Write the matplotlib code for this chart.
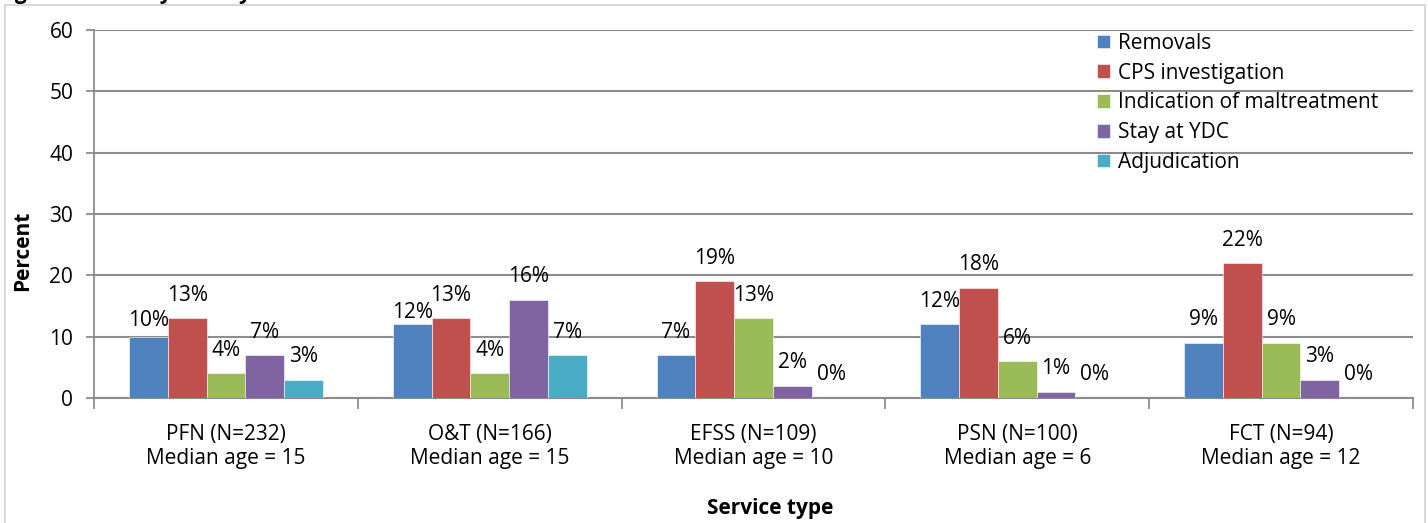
import numpy as np
import matplotlib
matplotlib.use("Agg")
import matplotlib.pyplot as plt
from matplotlib.patches import Rectangle

plt.rcParams["font.family"] = ["Open Sans", "DejaVu Sans"]

groups = ["PFN (N=232)", "O&T (N=166)", "EFSS (N=109)", "PSN (N=100)", "FCT (N=94)"]
median_ages = [15, 15, 10, 6, 12]
series_names = ["Removals", "CPS investigation", "Indication of maltreatment",
                "Stay at YDC", "Adjudication"]
removals = [10, 12, 7, 12, 9]
cps = [13, 13, 19, 18, 22]
maltreatment = [4, 4, 13, 6, 9]
ydc = [7, 16, 2, 1, 3]
adjudication = [3, 7, 0, 0, 0]
colors = ["#4F81BD", "#C0504D", "#9BBB59", "#8064A2", "#4BACC6"]


def main():
    values = [removals, cps, maltreatment, ydc, adjudication]
    fig = plt.figure(figsize=(14.28, 5.23), dpi=100)
    ax = fig.add_axes([94 / 1428, 1 - 398 / 523, (1413 - 94) / 1428, (398 - 30) / 523])

    # outer chart border
    fig.patches.append(Rectangle((5 / 1428, -0.05), 1420 / 1428, 1 - 5 / 523 + 0.05,
                                 transform=fig.transFigure, fill=False,
                                 edgecolor="#D9D9D9", linewidth=1.5))
    # figure caption sits above the cropped chart, only its lowest strokes show
    fig.text(-0.002, 1 + 1.5 / 523, "Figure 30: Family history of involvement",
             fontsize=15, fontweight="bold", va="baseline", ha="left")

    x = np.arange(len(groups))
    w = 0.147
    for i, (name, vals) in enumerate(zip(series_names, values)):
        pos = x + (i - 2) * w
        bars = ax.bar(pos, vals, width=w, color=colors[i], label=name,
                      edgecolor="white", linewidth=0.4, zorder=3)
        for j, (b, v) in enumerate(zip(bars, vals)):
            dy = 9
            # first two Removals labels were nudged down next to the taller red bars
            if i == 0 and j == 0:
                dy = 4
            elif i == 0 and j == 1:
                dy = 1
            ax.annotate(f"{v}%", (b.get_x() + b.get_width() / 2, v),
                        xytext=(0, dy), textcoords="offset points",
                        ha="center", va="bottom", fontsize=15, zorder=4)

    ax.set_ylim(0, 60)
    ax.set_xlim(-0.5, len(groups) - 0.5)
    ax.set_yticks(range(0, 61, 10))
    ax.yaxis.grid(True, color="#8C8C8C", linewidth=1.5, zorder=0)
    ax.set_axisbelow(True)

    ax.set_xticks(np.arange(len(groups) + 1) - 0.5)
    ax.set_xticklabels([])
    ax.set_xticks(x, minor=True)
    ax.set_xticklabels([f"{g}\nMedian age = {m}" for g, m in zip(groups, median_ages)],
                       minor=True, fontsize=15, linespacing=1.15)
    ax.tick_params(axis="x", which="major", length=8, width=1.3, color="#8C8C8C")
    ax.tick_params(axis="x", which="minor", length=0, pad=19)
    ax.tick_params(axis="y", length=6, width=1.3, color="#8C8C8C", labelsize=15, pad=9)

    for s in ["top", "right"]:
        ax.spines[s].set_visible(False)
    ax.spines["left"].set_color("#8C8C8C")
    ax.spines["left"].set_linewidth(1.3)
    ax.spines["bottom"].set_color("#8C8C8C")
    ax.spines["bottom"].set_linewidth(1.5)

    ax.set_ylabel("Percent", fontsize=15, fontweight="bold")
    ax.yaxis.set_label_coords(-0.046, 0.4)
    ax.set_xlabel("Service type", fontsize=15, fontweight="bold")
    ax.xaxis.set_label_coords(0.5125, -0.272)

    ax.legend(loc="upper left", bbox_to_anchor=(0.754, 1.015), frameon=False,
              fontsize=15, handlelength=0.65, handleheight=0.65, handletextpad=0.35,
              labelspacing=0.42, borderaxespad=0.0)

    fig.savefig("out.png", dpi=100, facecolor="w")
    plt.close(fig)


if __name__ == '__main__':
    main()
